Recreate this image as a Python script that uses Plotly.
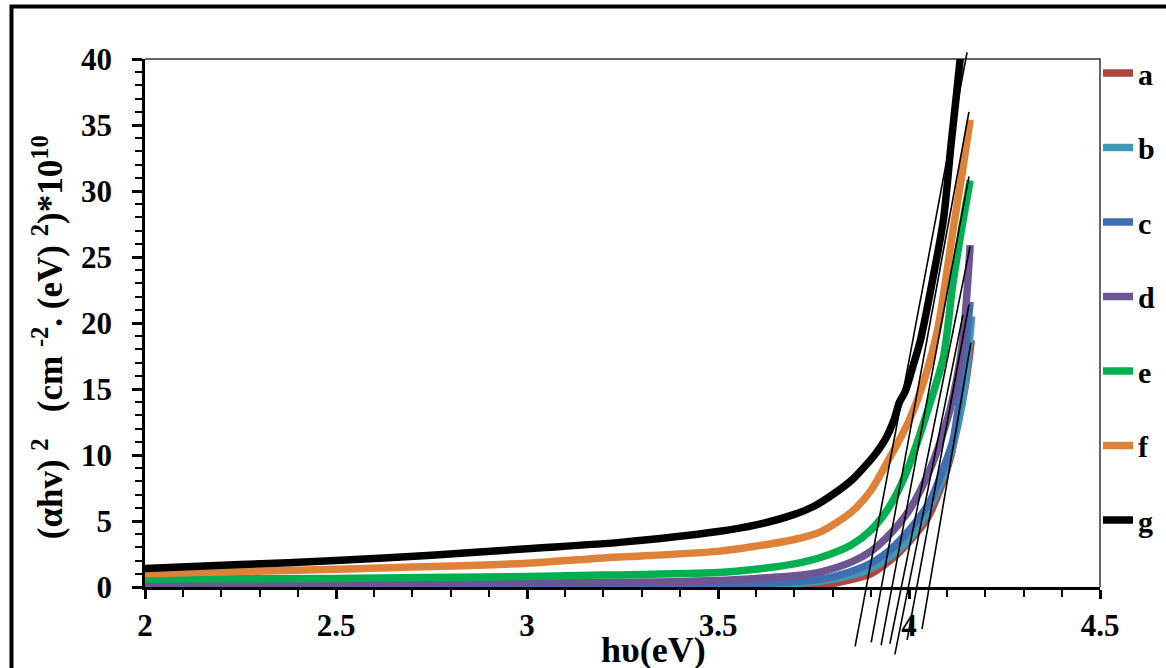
import plotly.graph_objects as go

# ---------------- data ----------------
series_names = ["a", "b", "c", "d", "e", "f", "g"]
series_colors = ["#B0463F", "#3F98B6", "#3F6FB0", "#6C5592", "#00B050", "#DE823A", "#000000"]

a_x = [2.0, 2.5, 3.0, 3.5, 3.7, 3.77, 3.84, 3.9, 3.95, 3.98, 4.02, 4.05, 4.08, 4.11, 4.13, 4.147, 4.163]
a_y = [0.0, 0.0, 0.0, 0.0, 0.02, 0.12, 0.5, 1.0, 2.0, 2.8, 4.1, 5.3, 7.3, 10.0, 12.9, 15.2, 18.7]

b_x = [2.0, 2.5, 3.0, 3.5, 3.7, 3.77, 3.85, 3.9, 3.95, 3.99, 4.03, 4.07, 4.11, 4.14, 4.164]
b_y = [0.05, 0.05, 0.06, 0.1, 0.25, 0.45, 0.9, 1.4, 2.3, 3.3, 4.8, 7.0, 10.2, 14.0, 20.5]

c_x = [2.0, 2.5, 3.0, 3.5, 3.7, 3.77, 3.84, 3.9, 3.95, 3.985, 4.02, 4.055, 4.09, 4.115, 4.134, 4.147, 4.16]
c_y = [0.1, 0.1, 0.12, 0.2, 0.4, 0.6, 1.1, 1.8, 2.8, 3.8, 5.0, 6.5, 9.0, 11.1, 14.7, 17.7, 21.6]

d_x = [2.0, 2.5, 3.0, 3.2, 3.5, 3.6, 3.7, 3.77, 3.85, 3.9, 3.94, 4.0, 4.055, 4.107, 4.14, 4.16]
d_y = [0.25, 0.3, 0.35, 0.35, 0.5, 0.65, 0.85, 1.15, 1.9, 2.7, 3.7, 5.8, 8.9, 13.4, 18.5, 25.9]

e_x = [2.0, 2.5, 3.0, 3.2, 3.5, 3.6, 3.7, 3.77, 3.85, 3.9, 3.94, 3.97, 4.0, 4.047, 4.09, 4.115, 4.14, 4.16]
e_y = [0.6, 0.65, 0.8, 0.9, 1.1, 1.35, 1.75, 2.25, 3.2, 4.3, 5.7, 7.2, 9.2, 13.2, 17.4, 23.0, 27.5, 30.8]

f_x = [2.0, 2.5, 3.0, 3.2, 3.5, 3.6, 3.7, 3.77, 3.85, 3.9, 3.94, 4.0, 4.04, 4.075, 4.115, 4.14, 4.16]
f_y = [1.0, 1.35, 1.8, 2.2, 2.7, 3.1, 3.6, 4.2, 5.7, 7.3, 9.3, 12.6, 15.7, 19.5, 27.0, 31.5, 35.4]

g_x = [2.0, 2.25, 2.5, 2.75, 3.0, 3.25, 3.5, 3.6, 3.7, 3.75, 3.8, 3.85, 3.88, 3.91, 3.94, 3.96, 3.975,
       3.99, 4.01, 4.03, 4.06, 4.09, 4.11, 4.125, 4.135]
g_y = [1.4, 1.7, 2.0, 2.4, 2.9, 3.4, 4.2, 4.7, 5.5, 6.1, 7.0, 8.1, 9.0, 10.0, 11.3, 12.6, 14.0,
       14.8, 16.7, 18.7, 23.0, 27.8, 33.5, 37.5, 40.3]

# tangent (extrapolation) lines for a..g: start and end points in data units
tan_x0 = [4.034, 3.995, 3.963, 3.950, 3.927, 3.901, 3.859]
tan_y0 = [-3.2, -4.0, -5.1, -4.3, -4.4, -4.2, -4.5]
tan_x1 = [4.162, 4.157, 4.141, 4.160, 4.157, 4.157, 4.152]
tan_y1 = [18.5, 21.4, 20.6, 25.8, 31.1, 36.0, 40.5]

x_tick_vals = [2.0, 2.5, 3.0, 3.5, 4.0, 4.5]
x_tick_text = ["2", "2.5", "3", "3.5", "4", "4.5"]
y_tick_vals = [0, 5, 10, 15, 20, 25, 30, 35, 40]

x_range = [2.0, 4.5]
y_range = [0.0, 40.0]

x_title = "hυ(eV)"
y_title = ("(αhv) <sup>2</sup>\u00a0\u00a0\u00a0(cm <sup>-2</sup>. (eV) <sup>2</sup>)*10<sup>10</sup>")

series_x = [a_x, b_x, c_x, d_x, e_x, f_x, g_x]
series_y = [a_y, b_y, c_y, d_y, e_y, f_y, g_y]

# ---------------- figure ----------------
FONT = "Liberation Serif"
fig = go.Figure()

for name, col, xs, ys in zip(series_names, series_colors, series_x, series_y):
    fig.add_trace(go.Scatter(
        x=xs, y=ys, mode="lines", name=name, legendgroup=name,
        line=dict(color=col, width=7.5, shape="spline", smoothing=0.8),
    ))

# tangent lines (x in data units, y converted to the y-axis fraction so they may run below the axis)
span = y_range[1] - y_range[0]
for x0, y0, x1, y1 in zip(tan_x0, tan_y0, tan_x1, tan_y1):
    fig.add_shape(type="line", xref="x", yref="paper",
                  x0=x0, y0=(y0 - y_range[0]) / span, x1=x1, y1=(y1 - y_range[0]) / span,
                  line=dict(color="black", width=1.6), layer="above")

# thin frame on top and right of the plot area
fig.add_shape(type="path", xref="paper", yref="paper", path="M 0 1 L 1 1 L 1 0",
              line=dict(color="#333333", width=1.5), layer="below")
# outer chart border
fig.add_shape(type="rect", xref="paper", yref="paper",
              x0=-0.1398, y0=-0.19, x1=1.09, y1=1.0994,
              line=dict(color="black", width=4), layer="below")

fig.add_annotation(text=x_title, xref="paper", yref="paper", x=0.532, y=-0.119,
                   xanchor="center", yanchor="middle", showarrow=False,
                   font=dict(family=FONT, size=36, color="black", weight="bold"))
fig.add_annotation(text=y_title, xref="paper", yref="paper", x=-0.1016, y=0.473,
                   xanchor="center", yanchor="middle", textangle=-90, showarrow=False,
                   font=dict(family=FONT, size=35, color="black", weight="bold"))

tick_font = dict(family=FONT, size=31, color="black", weight="bold")
fig.update_xaxes(range=x_range, tickvals=x_tick_vals, ticktext=x_tick_text,
                 showline=True, linecolor="black", linewidth=3,
                 ticks="outside", ticklen=9, tickwidth=2.5, tickcolor="black",
                 minor=dict(dtick=0.1, ticks="outside", ticklen=7, tickwidth=2, tickcolor="black"),
                 showgrid=False, zeroline=False, tickfont=tick_font, ticklabelstandoff=0)
fig.update_yaxes(range=y_range, tickvals=y_tick_vals,
                 showline=True, linecolor="black", linewidth=2.5,
                 ticks="outside", ticklen=10, tickwidth=2.5, tickcolor="black",
                 minor=dict(dtick=1, ticks="outside", ticklen=7, tickwidth=2, tickcolor="black"),
                 showgrid=False, zeroline=False, tickfont=tick_font, ticklabelstandoff=14)

fig.update_layout(
    width=1166, height=668,
    margin=dict(l=145, r=66, t=59, b=81, autoexpand=False),
    plot_bgcolor="white", paper_bgcolor="white",
    legend=dict(x=1098 / 1166, xref="container", xanchor="left",
                y=1 - 47 / 668, yref="container", yanchor="top", maxheight=640,
                font=dict(family=FONT, size=30, color="black", weight="bold"),
                tracegroupgap=32.5, bgcolor="rgba(0,0,0,0)", traceorder="grouped"),
)

# remove the default page margin so the figure starts at the window's top-left corner
fig.write_html("out.html", config={"displayModeBar": False},
               post_script="document.body.style.margin='0';")
